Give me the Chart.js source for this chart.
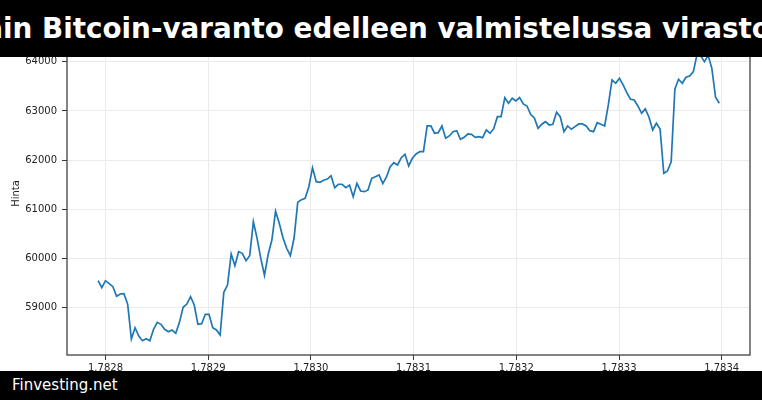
<!DOCTYPE html>
<html>
<head>
<meta charset="utf-8">
<script src="https://cdn.jsdelivr.net/npm/chart.js@4/dist/chart.umd.min.js"></script>
<style>
  html, body { margin: 0; padding: 0; background: #ffffff; }
  #wrap { position: relative; width: 762px; height: 400px; overflow: hidden; background: #fff; }
  #c { position: absolute; left: 0; top: 0; }
  #titlebar { position: absolute; left: 0; top: 0; width: 762px; height: 57px; background: #000; overflow: hidden; }
  #titletext { position: absolute; top: 0; left: 0; white-space: nowrap; color: #fff;
    font-family: "DejaVu Sans", sans-serif; font-weight: bold; font-size: 27.8px; line-height: 57px; }
  #footer { position: absolute; left: 0; top: 371px; width: 762px; height: 29px; background: #000; }
  #footertext { position: absolute; left: 12px; top: 0; color: #fff; white-space: nowrap;
    font-family: "DejaVu Sans", sans-serif; font-size: 15px; line-height: 29px; }
</style>
</head>
<body>
<div id="wrap">
  <canvas id="c" width="762" height="400" style="width:762px;height:400px"></canvas>
  <div id="titlebar"><div id="titletext"><span id="tpre">Yhdysvaltain </span><span>Bitcoin-varanto edelleen valmistelussa virastoissa</span></div></div>
  <div id="footer"><div id="footertext">Finvesting.net</div></div>
</div>
<script>
// ---- data ----
const startTime = 1782792800;   // first sample (epoch seconds)
const stepSeconds = 3600;       // hourly samples
const prices = [
  59549, 59407, 59549, 59488, 59427, 59232, 59279, 59285, 59069, 58364,
  58593, 58425, 58329, 58370, 58329, 58561, 58703, 58663, 58561, 58512,
  58547, 58480, 58703, 59008, 59075, 59224, 59055, 58663, 58675, 58866,
  58866, 58593, 58547, 58445, 59313, 59461, 60092, 59854, 60138, 60106,
  59955, 60057, 60748, 60411, 60004, 59659, 60086, 60376, 60960, 60716,
  60423, 60208, 60057, 60411, 61143, 61196, 61224, 61460, 61846, 61562,
  61549, 61590, 61616, 61684, 61440, 61509, 61509, 61440, 61494, 61257,
  61529, 61373, 61358, 61393, 61631, 61663, 61698, 61521, 61657, 61866,
  61948, 61901, 62050, 62119, 61881, 62037, 62125, 62171, 62171, 62694,
  62694, 62546, 62558, 62694, 62444, 62491, 62578, 62598, 62424, 62464,
  62531, 62525, 62464, 62477, 62456, 62613, 62545, 62639, 62883, 62883,
  63269, 63156, 63257, 63202, 63269, 63141, 63100, 62925, 62857, 62647,
  62729, 62781, 62714, 62729, 62973, 62883, 62578, 62694, 62627, 62680,
  62735, 62735, 62694, 62598, 62578, 62761, 62729, 62694, 63121, 63629,
  63562, 63664, 63528, 63371, 63237, 63223, 63101, 62952, 63040, 62871,
  62613, 62749, 62633, 61732, 61779, 61968, 63440, 63643, 63562, 63684,
  63711, 63799, 64150, 64120, 64000, 64130, 63865, 63277, 63157
];
const xTickValues = [1782800000, 1782900000, 1783000000, 1783100000, 1783200000, 1783300000, 1783400000];
const xTickLabels = ['1.7828', '1.7829', '1.7830', '1.7831', '1.7832', '1.7833', '1.7834'];
const yTickValues = [59000, 60000, 61000, 62000, 63000, 64000];
const yTickLabels = ['59000', '60000', '61000', '62000', '63000', '64000'];
const yAxisTitle = 'Hinta';

// ---- build points ----
const points = prices.map((p, i) => ({ x: startTime + i * stepSeconds, y: p }));

// title horizontal placement
const pre = document.getElementById('tpre');
document.getElementById('titletext').style.left = (42 - pre.getBoundingClientRect().width) + 'px';

Chart.defaults.font.family = '"DejaVu Sans", sans-serif';
Chart.defaults.font.size = 10;
Chart.defaults.color = '#222';

const frame = {
  id: 'frame',
  afterDatasetsDraw(chart) {
    const a = chart.chartArea, ctx = chart.ctx;
    ctx.save();
    ctx.strokeStyle = '#3a3a3a';
    ctx.lineWidth = 1.25;
    ctx.strokeRect(a.left, a.top, a.right - a.left, a.bottom - a.top);
    ctx.restore();
  }
};

new Chart(document.getElementById('c'), {
  type: 'line',
  data: {
    datasets: [{
      data: points,
      borderColor: '#1f77b4',
      borderWidth: 1.7,
      pointRadius: 0,
      tension: 0,
      fill: false
    }]
  },
  options: {
    responsive: false,
    animation: false,
    events: [],
    layout: { padding: { left: 0, right: 12, top: 32, bottom: 0 } },
    plugins: { legend: { display: false }, tooltip: { enabled: false }, title: { display: false } },
    scales: {
      x: {
        type: 'linear',
        min: 1782762512,
        max: 1783427556,
        afterBuildTicks(scale) { scale.ticks = xTickValues.map(v => ({ value: v })); },
        afterFit(scale) { scale.height = 45; },
        ticks: {
          autoSkip: false, maxRotation: 0, padding: 2, color: '#222',
          callback: (v, i) => xTickLabels[i]
        },
        grid: { color: '#ebebeb', lineWidth: 1, tickColor: '#3a3a3a', tickLength: 5, tickWidth: 1 },
        border: { display: false }
      },
      y: {
        type: 'linear',
        min: 58039,
        max: 64604,
        afterBuildTicks(scale) { scale.ticks = yTickValues.map(v => ({ value: v })); },
        afterFit(scale) { scale.width = 67; },
        ticks: {
          autoSkip: false, padding: 5, color: '#222',
          callback: (v, i) => yTickLabels[i]
        },
        title: { display: true, text: yAxisTitle, color: '#222', font: { size: 10 }, padding: { top: 10, bottom: 0 } },
        grid: { color: '#ebebeb', lineWidth: 1, tickColor: '#3a3a3a', tickLength: 5, tickWidth: 1 },
        border: { display: false }
      }
    }
  },
  plugins: [frame]
});
</script>
</body>
</html>
